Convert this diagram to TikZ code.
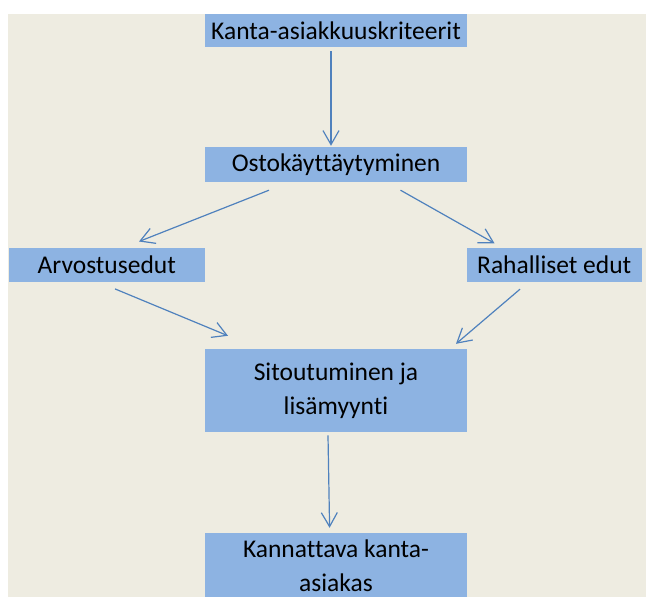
\documentclass[tikz,border=0pt]{standalone}
\usepackage{fontspec}
\setmainfont{Carlito}[Ligatures={NoCommon}]
\usetikzlibrary{arrows.meta,calc}
\definecolor{bg}{HTML}{EEECE1}
\definecolor{boxfill}{HTML}{8DB3E2}
\definecolor{arrowblue}{HTML}{4F81BD}
\tikzset{
  boxnode/.style={fill=boxfill, inner sep=0pt, font=\fontsize{25.5}{34}\selectfont, align=center, text=black},
  arr/.style={draw=arrowblue, line width=1.2pt, -{Straight Barb[length=14pt,width=16pt,line width=1.2pt]}}
}
\begin{document}
\begin{tikzpicture}[x=1pt,y=-1pt]
\useasboundingbox (0,0) rectangle (646,597);
\fill[white] (0,0) rectangle (646,597);
\fill[bg] (8,14) rectangle (646,597);
\node[boxnode, minimum width=262pt, minimum height=33pt] (b1) at (336,30.5) {Kanta-asiakkuuskriteerit};
\node[boxnode, minimum width=262pt, minimum height=34.5pt] (b2) at (336,164.25) {Ostokäyttäytyminen};
\node[boxnode, minimum width=195.5pt, minimum height=33.7pt] (b3) at (106.75,264.85) {Arvostusedut};
\node[boxnode, minimum width=175pt, minimum height=33.7pt] (b4) at (554.2,264.85) {Rahalliset edut};
\node[boxnode, minimum width=262pt, minimum height=82.7pt] (b5) at (336,390.35) {Sitoutuminen ja\\lisämyynti};
\node[boxnode, minimum width=262pt, minimum height=66pt] (b6) at (336,566) {Kannattava kanta-\\asiakas};
\draw[arr] ($(b1.south)+(-5,4)$) -- ($(b2.north)+(-5,-1)$);
\draw[arr] ($(b2.south)+(-67,8.5)$) -- ($(b3.north)+(32.25,-6.3)$);
\draw[arr] ($(b2.south)+(64.5,8.5)$) -- ($(b4.north)+(-59.7,-4.5)$);
\draw[arr] ($(b3.south)+(8.25,7)$) -- ($(b5.north)+(-108,-13)$);
\draw[arr] ($(b4.south)+(-34.2,7.3)$) -- ($(b5.north)+(120,-5)$);
\draw[arr] ($(b5.south)+(-8,3.5)$) -- ($(b6.north)+(-6.4,-5)$);
\end{tikzpicture}
\end{document}
